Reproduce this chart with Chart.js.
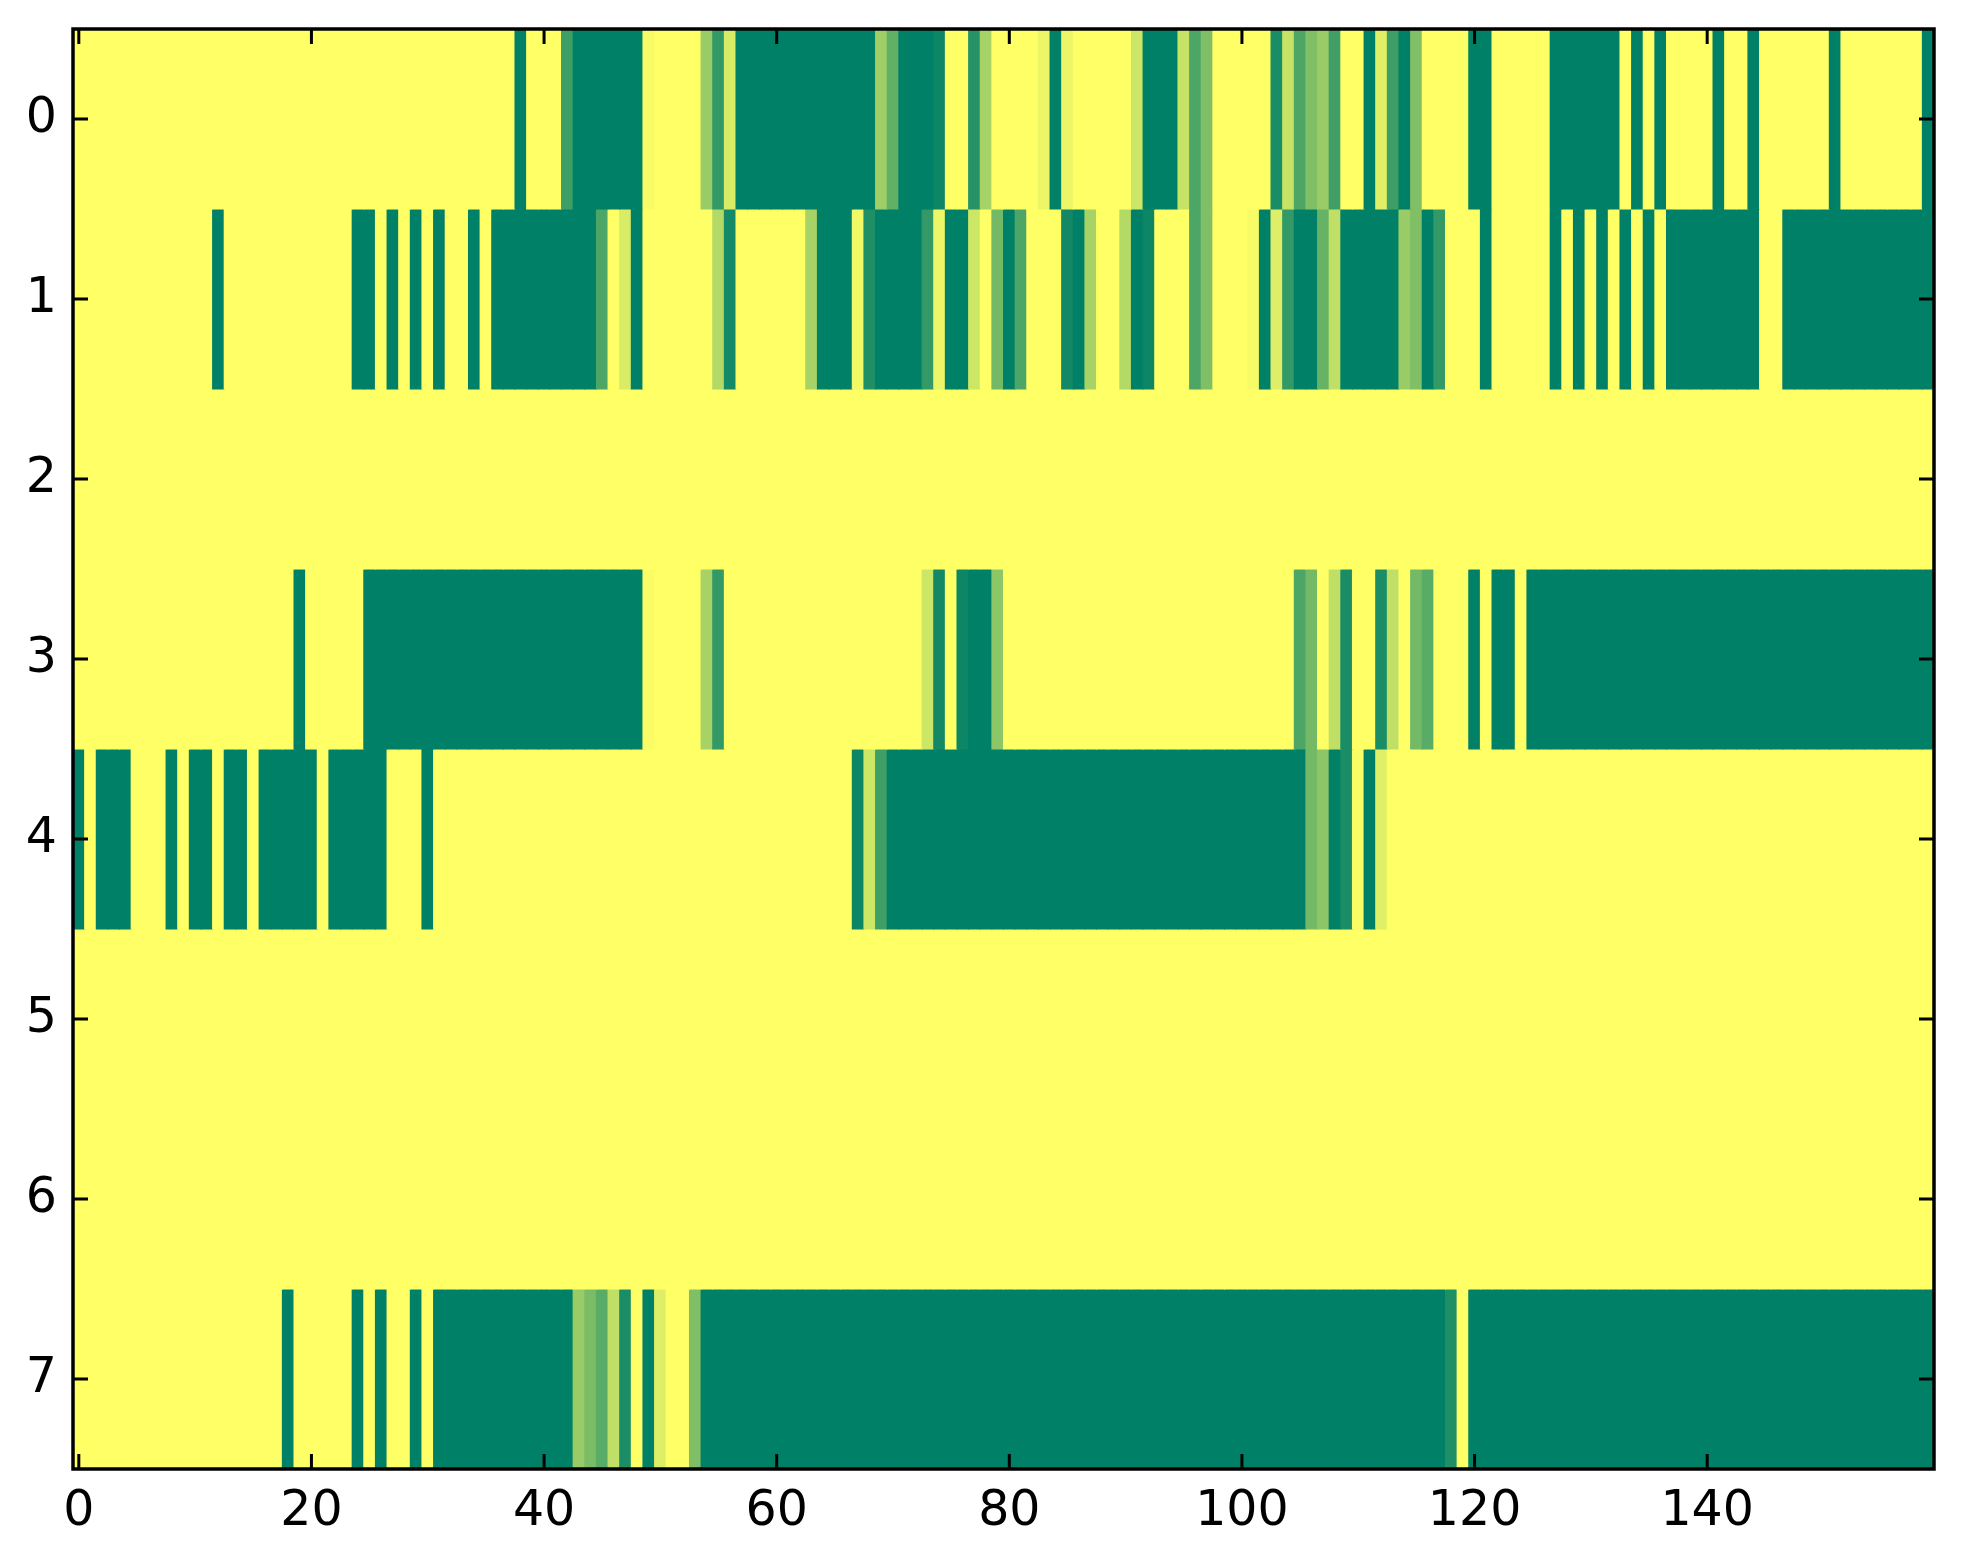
<!DOCTYPE html>
<html><head><meta charset="utf-8">
<script src="https://cdn.jsdelivr.net/npm/chart.js@4/dist/chart.umd.min.js"></script>
<style>html,body{margin:0;padding:0;background:#fff}</style>
</head><body>
<canvas id="c" width="1963" height="1564"></canvas>
<script>
const rowLabels = ['0','1','2','3','4','5','6','7'];
const xTickValues = [0,20,40,60,80,100,120,140];

const row0 = [
1,1,1,1,1,1,1,1,1,1,
1,1,1,1,1,1,1,1,1,1,
1,1,1,1,1,1,1,1,1,1,
1,1,1,1,1,1,1,1,0,1,
1,1,0.24,0,0,0,0,0,0,0.97,
1,1,1,1,0.6,0.2,0.85,0,0,0,
0,0,0,0,0,0,0,0,0,0.62,
0.38,0,0,0,0.05,1,1,0.15,0.65,1,
1,1,1,0.93,0,0.93,1,1,1,1,
1,0.8,0,0,0,0.78,0.3,0.5,1,1,
1,1,1,0.1,0.78,0.3,0.5,0.6,0.25,1,
1,0,0.88,0.24,0,0.5,1,1,1,1,
0,0,1,1,1,1,1,0,0,0,
0,0,0,1,0,1,0,1,1,1,
1,0,1,1,0,1,1,1,1,1,
1,0,1,1,1,1,1,1,1,0
];
const row1 = [
1,1,1,1,1,1,1,1,1,1,
1,1,0,1,1,1,1,1,1,1,
1,1,1,1,0,0,1,0,1,0,
1,0,1,1,0,1,0,0,0,0,
0,0,0,0,0,0.3,1,0.85,0,1,
1,1,1,1,1,0.7,0.08,1,1,1,
1,1,1,0.65,0,0,0,0.95,0.12,0,
0,0,0,0.2,0.93,0,0,0.8,1,0.45,
0,0.3,1,1,1,0.07,0,0.65,1,1,
0.7,0,0.05,1,1,1,0.3,0.5,1,1,
1,0.97,0,0.87,0.2,0,0,0.4,0.75,0,
0,0,0,0,0.6,0.5,0,0.2,1,1,
1,0,1,1,1,1,1,0,1,0,
1,0,1,0,1,0,1,0,0,0,
0,0,0,0,0,1,1,0,0,0,
0,0,0,0,0,0,0,0,0,0
];
const row2 = [
1,1,1,1,1,1,1,1,1,1,
1,1,1,1,1,1,1,1,1,1,
1,1,1,1,1,1,1,1,1,1,
1,1,1,1,1,1,1,1,1,1,
1,1,1,1,1,1,1,1,1,1,
1,1,1,1,1,1,1,1,1,1,
1,1,1,1,1,1,1,1,1,1,
1,1,1,1,1,1,1,1,1,1,
1,1,1,1,1,1,1,1,1,1,
1,1,1,1,1,1,1,1,1,1,
1,1,1,1,1,1,1,1,1,1,
1,1,1,1,1,1,1,1,1,1,
1,1,1,1,1,1,1,1,1,1,
1,1,1,1,1,1,1,1,1,1,
1,1,1,1,1,1,1,1,1,1,
1,1,1,1,1,1,1,1,1,1
];
const row3 = [
1,1,1,1,1,1,1,1,1,1,
1,1,1,1,1,1,1,1,1,0,
1,1,1,1,1,0,0,0,0,0,
0,0,0,0,0,0,0,0,0,0,
0,0,0,0,0,0,0,0,0,0.98,
1,1,1,1,0.65,0.2,1,1,1,1,
1,1,1,1,1,1,1,1,1,1,
1,1,1,0.8,0.07,1,0.05,0,0,0.55,
1,1,1,1,1,1,1,1,1,1,
1,1,1,1,1,1,1,1,1,1,
1,1,1,1,1,0.3,0.45,1,0.75,0.1,
1,1,0.1,0.75,1,0.45,0.35,1,1,1,
0,1,0,0,1,0,0,0,0,0,
0,0,0,0,0,0,0,0,0,0,
0,0,0,0,0,0,0,0,0,0,
0,0,0,0,0,0,0,0,0,0
];
const row4 = [
0,1,0,0,0,1,1,1,0,1,
0,0,1,0,0,1,0,0,0,0,
0,1,0,0,0,0,0,1,1,1,
0,1,1,1,1,1,1,1,1,1,
1,1,1,1,1,1,1,1,1,1,
1,1,1,1,1,1,1,1,1,1,
1,1,1,1,1,1,1,0.05,0.8,0.25,
0,0,0,0,0,0,0,0,0,0,
0,0,0,0,0,0,0,0,0,0,
0,0,0,0,0,0,0,0,0,0,
0,0,0,0,0,0,0.45,0.55,0,0.1,
0.98,0,0.88,1,1,1,1,1,1,1,
1,1,1,1,1,1,1,1,1,1,
1,1,1,1,1,1,1,1,1,1,
1,1,1,1,1,1,1,1,1,1,
1,1,1,1,1,1,1,1,1,1
];
const row5 = [
1,1,1,1,1,1,1,1,1,1,
1,1,1,1,1,1,1,1,1,1,
1,1,1,1,1,1,1,1,1,1,
1,1,1,1,1,1,1,1,1,1,
1,1,1,1,1,1,1,1,1,1,
1,1,1,1,1,1,1,1,1,1,
1,1,1,1,1,1,1,1,1,1,
1,1,1,1,1,1,1,1,1,1,
1,1,1,1,1,1,1,1,1,1,
1,1,1,1,1,1,1,1,1,1,
1,1,1,1,1,1,1,1,1,1,
1,1,1,1,1,1,1,1,1,1,
1,1,1,1,1,1,1,1,1,1,
1,1,1,1,1,1,1,1,1,1,
1,1,1,1,1,1,1,1,1,1,
1,1,1,1,1,1,1,1,1,1
];
const row6 = [
1,1,1,1,1,1,1,1,1,1,
1,1,1,1,1,1,1,1,1,1,
1,1,1,1,1,1,1,1,1,1,
1,1,1,1,1,1,1,1,1,1,
1,1,1,1,1,1,1,1,1,1,
1,1,1,1,1,1,1,1,1,1,
1,1,1,1,1,1,1,1,1,1,
1,1,1,1,1,1,1,1,1,1,
1,1,1,1,1,1,1,1,1,1,
1,1,1,1,1,1,1,1,1,1,
1,1,1,1,1,1,1,1,1,1,
1,1,1,1,1,1,1,1,1,1,
1,1,1,1,1,1,1,1,1,1,
1,1,1,1,1,1,1,1,1,1,
1,1,1,1,1,1,1,1,1,1,
1,1,1,1,1,1,1,1,1,1
];
const row7 = [
1,1,1,1,1,1,1,1,1,1,
1,1,1,1,1,1,1,1,0,1,
1,1,1,1,0,1,0,1,1,0,
1,0,0,0,0,0,0,0,0,0,
0,0,0,0.6,0.48,0.35,0.75,0.1,1,0,
0.87,1,1,0.5,0,0,0,0,0,0,
0,0,0,0,0,0,0,0,0,0,
0,0,0,0,0,0,0,0,0,0,
0,0,0,0,0,0,0,0,0,0,
0,0,0,0,0,0,0,0,0,0,
0,0,0,0,0,0,0,0,0,0,
0,0,0,0,0,0,0,0,0.12,1,
0,0,0,0,0,0,0,0,0,0,
0,0,0,0,0,0,0,0,0,0,
0,0,0,0,0,0,0,0,0,0,
0,0,0,0,0,0,0,0,0,0
];

const rows = [row0, row1, row2, row3, row4, row5, row6, row7];

// matplotlib "summer" colormap
function summer(v) {
  return 'rgb(' + Math.round(255 * v) + ',' + Math.round(127.5 + 127.5 * v) + ',102)';
}

const datasets = rows.map((vals, r) => ({
  label: 'row ' + rowLabels[r],
  data: vals.map((v, i) => ({ x: [i - 0.5, i + 0.5], y: rowLabels[r] })),
  backgroundColor: vals.map(summer),
  borderWidth: 0,
  barPercentage: 1,
  categoryPercentage: 1,
  grouped: false,
  inflateAmount: 0.5
}));

const FONT = { family: 'DejaVu Sans', size: 49 };

const framePlugin = {
  id: 'frame',
  afterDatasetsDraw(chart) {
    const { ctx, chartArea: a, scales: { x, y } } = chart;
    const L = 15;
    ctx.save();
    ctx.strokeStyle = '#000';
    ctx.lineWidth = 3;
    ctx.beginPath();
    x.ticks.forEach(t => {
      const px = x.getPixelForValue(t.value);
      ctx.moveTo(px, a.bottom); ctx.lineTo(px, a.bottom - L);
      ctx.moveTo(px, a.top); ctx.lineTo(px, a.top + L);
    });
    y.ticks.forEach((t, i) => {
      const py = y.getPixelForTick(i);
      ctx.moveTo(a.left, py); ctx.lineTo(a.left + L, py);
      ctx.moveTo(a.right, py); ctx.lineTo(a.right - L, py);
    });
    ctx.stroke();
    ctx.lineWidth = 3.5;
    ctx.strokeRect(a.left, a.top, a.right - a.left, a.bottom - a.top);
    ctx.restore();
  }
};

new Chart(document.getElementById('c'), {
  type: 'bar',
  data: { labels: rowLabels, datasets },
  options: {
    indexAxis: 'y',
    responsive: false,
    devicePixelRatio: 1,
    animation: false,
    events: [],
    layout: { padding: { top: 29, right: 29, left: 0, bottom: 0 } },
    plugins: { legend: { display: false }, tooltip: { enabled: false } },
    scales: {
      x: {
        type: 'linear',
        min: -0.5,
        max: 159.5,
        grid: { display: false, drawTicks: false },
        border: { display: false },
        afterBuildTicks: s => { s.ticks = xTickValues.map(v => ({ value: v })); },
        afterFit: s => { s.height = 95; s.paddingLeft = 0; s.paddingRight = 0; },
        ticks: { font: FONT, color: '#000', padding: 14, maxRotation: 0, autoSkip: false }
      },
      y: {
        type: 'category',
        labels: rowLabels,
        offset: true,
        grid: { display: false, drawTicks: false },
        border: { display: false },
        afterFit: s => { s.width = 73; s.paddingTop = 0; s.paddingBottom = 0; },
        ticks: { font: FONT, color: '#000', padding: 16, autoSkip: false }
      }
    }
  },
  plugins: [framePlugin]
});
</script>
</body></html>
